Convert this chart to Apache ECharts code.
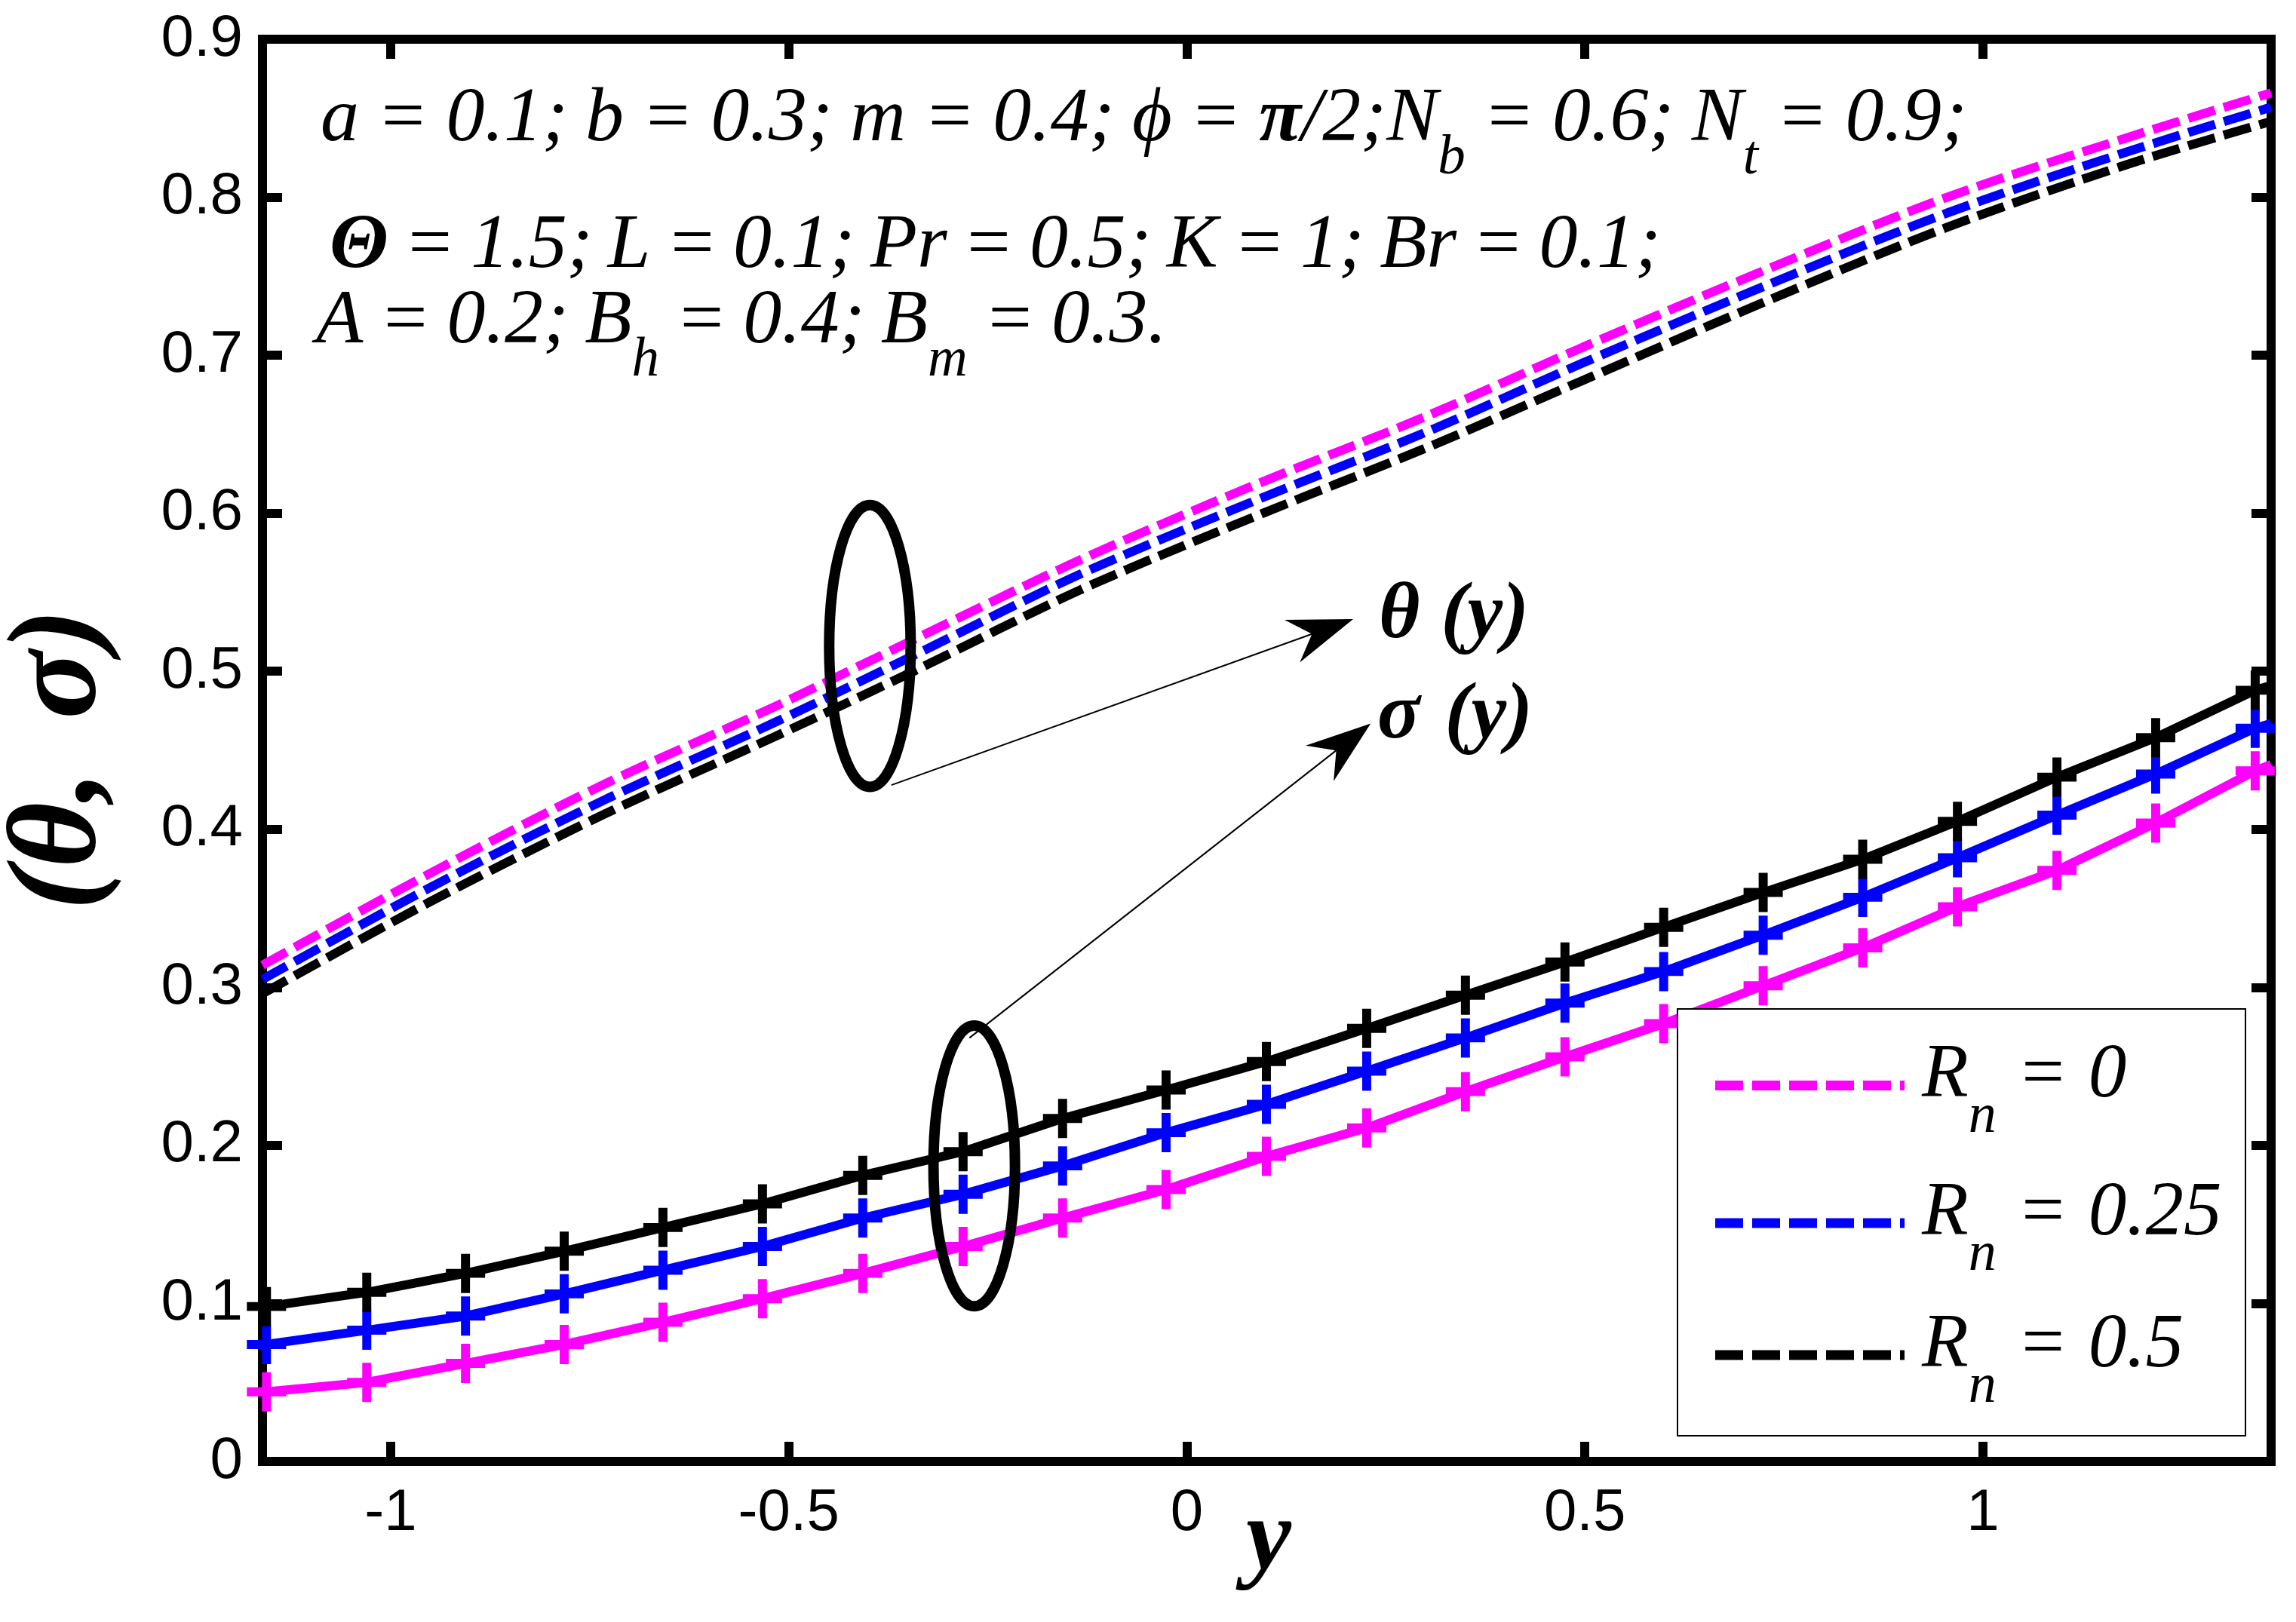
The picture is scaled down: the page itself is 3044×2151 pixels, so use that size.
<!DOCTYPE html>
<html>
<head>
<meta charset="utf-8">
<title>theta and sigma profiles</title>
<script src="https://cdn.jsdelivr.net/npm/echarts@6.0.0/dist/echarts.min.js"></script>
<style>
  html, body { margin: 0; padding: 0; background: #fff; }
  #chart { width: 3044px; height: 2151px; }
</style>
</head>
<body>
<div id="chart"></div>
<script>
'use strict';

// theta(y) - dashed curves
const thetaX = [-1.161, -0.951, -0.734, -0.516, -0.335, -0.136, 0.081, 0.299, 0.497, 0.727, 0.955, 1.183, 1.362];
const thetaRn0 = [0.314, 0.372, 0.428, 0.478, 0.522, 0.570, 0.617, 0.661, 0.705, 0.754, 0.800, 0.838, 0.866];
const thetaRn025 = [0.305, 0.363, 0.418, 0.468, 0.512, 0.561, 0.607, 0.651, 0.695, 0.744, 0.790, 0.829, 0.857];
const thetaRn05 = [0.296, 0.354, 0.409, 0.459, 0.502, 0.551, 0.597, 0.641, 0.684, 0.734, 0.781, 0.821, 0.848];

// sigma(y) - solid curves with + markers (last point is the line end at the axis, no marker)
const sigmaX = [-1.156, -1.030, -0.906, -0.782, -0.658, -0.533, -0.407, -0.281, -0.156, -0.026, 0.100,
    0.226, 0.350, 0.475, 0.599, 0.724, 0.849, 0.968, 1.093, 1.217, 1.342, 1.362];
const sigmaRn0 = [0.044, 0.050, 0.062, 0.074, 0.088, 0.103, 0.119, 0.136, 0.154, 0.172, 0.193,
    0.211, 0.234, 0.256, 0.277, 0.301, 0.325, 0.351, 0.374, 0.404, 0.437, 0.441];
const sigmaRn025 = [0.074, 0.083, 0.092, 0.106, 0.121, 0.136, 0.154, 0.169, 0.187, 0.208, 0.226,
    0.247, 0.268, 0.290, 0.310, 0.333, 0.357, 0.382, 0.409, 0.435, 0.464, 0.467];
const sigmaRn05 = [0.098, 0.107, 0.119, 0.133, 0.148, 0.163, 0.181, 0.196, 0.217, 0.235, 0.253,
    0.274, 0.295, 0.316, 0.338, 0.360, 0.381, 0.405, 0.433, 0.458, 0.488, 0.491];

const seriesColors = ['#FF00FF', '#0000FF', '#000000'];
const legendLabels = ['R_{n} = 0', 'R_{n} = 0.25', 'R_{n} = 0.5'];
const xTicks = [-1, -0.5, 0, 0.5, 1];
const xRange = [-1.161, 1.362];
const yRange = [0, 0.9];

// annotations, in data units: [cx, cy, rx, ry] and [[tail], [tip]]
const ellipseTheta = [-0.398, 0.516, 0.0512, 0.0892];
const ellipseSigma = [-0.267, 0.187, 0.0512, 0.0888];
const arrowTheta = [[-0.371, 0.428], [0.209, 0.533]];
const arrowSigma = [[-0.273, 0.268], [0.231, 0.467]];

const plusPath = 'path://M38.5,0H61.5V38.5H100V61.5H61.5V100H38.5V61.5H0V38.5H38.5Z';
const dash = [37, 12];

const chart = echarts.init(document.getElementById('chart'), null, { renderer: 'canvas' });

const thetaSeries = (ys, color) => ({
    type: 'line',
    data: thetaX.map((x, i) => [x, ys[i]]),
    symbol: 'none',
    smooth: 0.3,
    lineStyle: { color: color, width: 12, type: dash },
    z: 2
});

const sigmaSeries = (ys, color) => ({
    type: 'line',
    data: sigmaX.map((x, i) => i === sigmaX.length - 1 ? { value: [x, ys[i]], symbol: 'none' } : [x, ys[i]]),
    symbol: plusPath,
    symbolSize: 52,
    showAllSymbol: true,
    itemStyle: { color: color },
    lineStyle: { color: color, width: 12 },
    z: 3
});

const tickStyle = { color: '#000', width: 12 };
const labelFont = { fontFamily: 'Liberation Sans', fontSize: 78, color: '#000' };
const noLine = { show: false, onZero: false };

chart.setOption({
    animation: false,
    backgroundColor: '#fff',
    grid: {
        left: 348, top: 52, width: 2663, height: 1886,
        show: true, borderColor: '#000', borderWidth: 12
    },
    xAxis: [{
        type: 'value', min: xRange[0], max: xRange[1],
        axisLine: noLine,
        splitLine: { show: false },
        axisTick: { show: true, inside: true, length: 26, lineStyle: tickStyle, customValues: xTicks },
        axisLabel: Object.assign({ margin: 30, customValues: xTicks, formatter: v => String(v) }, labelFont)
    }, {
        type: 'value', position: 'top', min: xRange[0], max: xRange[1],
        axisLine: noLine,
        splitLine: { show: false },
        axisTick: { show: true, inside: true, length: 26, lineStyle: tickStyle, customValues: xTicks },
        axisLabel: { show: false }
    }],
    yAxis: [{
        type: 'value', position: 'left', min: yRange[0], max: yRange[1], interval: 0.1,
        axisLine: noLine,
        splitLine: { show: false },
        axisTick: { show: true, inside: true, length: 26, lineStyle: tickStyle },
        axisLabel: Object.assign({ margin: 26, formatter: v => String(Math.round(v * 10) / 10) }, labelFont)
    }, {
        type: 'value', position: 'right', min: yRange[0], max: yRange[1], interval: 0.1,
        axisLine: noLine,
        splitLine: { show: false },
        axisTick: { show: true, inside: true, length: 26, lineStyle: tickStyle },
        axisLabel: { show: false }
    }],
    series: [
        thetaSeries(thetaRn0, seriesColors[0]),
        thetaSeries(thetaRn025, seriesColors[1]),
        thetaSeries(thetaRn05, seriesColors[2]),
        sigmaSeries(sigmaRn0, seriesColors[0]),
        sigmaSeries(sigmaRn025, seriesColors[1]),
        sigmaSeries(sigmaRn05, seriesColors[2])
    ]
});

// ---- text helpers (subscripts need manual layout) ----
const measureCtx = document.createElement('canvas').getContext('2d');

function textWidth(str, font) {
    measureCtx.font = font;
    return measureCtx.measureText(str).width;
}

// how far the canvas 'middle' line sits above the alphabetic baseline
function midShift(font) {
    measureCtx.font = font;
    measureCtx.textBaseline = 'alphabetic';
    const a = measureCtx.measureText('H').actualBoundingBoxAscent;
    measureCtx.textBaseline = 'middle';
    const b = measureCtx.measureText('H').actualBoundingBoxAscent;
    measureCtx.textBaseline = 'alphabetic';
    return a - b;
}

// "N_{b}" -> subscript, "*{x}" -> bold; words are split on spaces
function parseLine(str) {
    return str.split(' ').map(w => w.split(/(_\{[^}]*\}|\*\{[^}]*\})/).filter(s => s).map(s => {
        if (s[0] === '_' && s[1] === '{') return { t: s.slice(2, -1), sub: true };
        if (s[0] === '*' && s[1] === '{') return { t: s.slice(2, -1), bold: true };
        return { t: s };
    }));
}

function textRow(str, opt) {
    const words = parseLine(str);
    let fixed = 0;
    words.forEach(w => w.forEach(p => {
        const bold = p.bold || opt.bold;
        p.font = 'italic ' + (bold ? 'bold ' : '') + (p.sub ? opt.subSize : opt.size) + 'px "Liberation Serif"';
        p.w = textWidth(p.t, p.font);
        fixed += p.w;
    }));
    const gaps = words.length - 1;
    let space = 0;
    if (opt.space != null) space = opt.space;
    else if (opt.width != null && gaps > 0) space = Math.max(0, (opt.width - fixed) / gaps);
    const total = fixed + space * gaps;
    let cx = opt.anchor === 'center' ? -total / 2 : 0;
    const children = [];
    words.forEach(w => {
        w.forEach(p => {
            const drop = p.sub ? opt.subDrop : 0;
            children.push({
                type: 'text', x: cx, y: drop - midShift(p.font), silent: true, z: opt.z || 50,
                style: {
                    text: p.t, font: p.font, fill: '#000',
                    align: 'left', verticalAlign: 'middle',
                    textAlign: 'left', textVerticalAlign: 'middle'
                }
            });
            cx += p.w;
        });
        cx += space;
    });
    return { type: 'group', x: opt.x, y: opt.y, rotation: opt.rotation || 0, z: opt.z || 50, children: children };
}

const toPx = pt => chart.convertToPixel({ xAxisIndex: 0, yAxisIndex: 0 }, pt);

function ellipseEl(e) {
    const c = toPx([e[0], e[1]]);
    const r = toPx([e[0] + e[2], e[1] + e[3]]);
    return {
        type: 'ellipse', z: 40, silent: true,
        shape: { cx: c[0], cy: c[1], rx: Math.abs(r[0] - c[0]), ry: Math.abs(r[1] - c[1]) },
        style: { fill: 'none', stroke: '#000', lineWidth: 14 }
    };
}

function arrowEls(a) {
    const s = toPx(a[0]);
    const t = toPx(a[1]);
    const len = Math.hypot(t[0] - s[0], t[1] - s[1]);
    const ux = (t[0] - s[0]) / len, uy = (t[1] - s[1]) / len;
    const nx = -uy, ny = ux;
    const headLen = 86, halfW = 30, notch = 58;
    return [{
        type: 'line', z: 40, silent: true,
        shape: { x1: s[0], y1: s[1], x2: t[0] - notch * ux, y2: t[1] - notch * uy },
        style: { stroke: '#000', lineWidth: 2 }
    }, {
        type: 'polygon', z: 40, silent: true,
        shape: {
            points: [
                [t[0], t[1]],
                [t[0] - headLen * ux + halfW * nx, t[1] - headLen * uy + halfW * ny],
                [t[0] - notch * ux, t[1] - notch * uy],
                [t[0] - headLen * ux - halfW * nx, t[1] - headLen * uy - halfW * ny]
            ]
        },
        style: { fill: '#000' }
    }];
}

// ---- legend box ----
const legendBox = { x: 2224, y: 1338, w: 753, h: 566 };
const legendRows = [1439.5, 1622, 1797];
const legendEls = [{
    type: 'rect', z: 60, silent: true,
    shape: { x: legendBox.x, y: legendBox.y, width: legendBox.w, height: legendBox.h },
    style: { fill: '#fff', stroke: '#000', lineWidth: 2 }
}];
legendRows.forEach((ly, i) => {
    legendEls.push({
        type: 'line', z: 61, silent: true,
        shape: { x1: 2274, y1: ly, x2: 2525, y2: ly },
        style: { stroke: seriesColors[i], lineWidth: 13, lineDash: dash }
    });
    legendEls.push(textRow(legendLabels[i], {
        x: 2548, y: ly + 14.5, size: 101, subSize: 74, subDrop: 47, space: 27, z: 62
    }));
});

const paramOpt = { size: 102, subSize: 73, subDrop: 44 };

chart.setOption({
    graphic: [
        textRow('a = 0.1; b = 0.3; m = 0.4; ϕ = *{π}/2;N_{b} = 0.6; N_{t} = 0.9;',
            Object.assign({ x: 425, y: 186, width: 2183 }, paramOpt)),
        textRow('*{Θ} = 1.5; L = 0.1; Pr = 0.5; K = 1; Br = 0.1;',
            Object.assign({ x: 437, y: 354, width: 1765 }, paramOpt)),
        textRow('A = 0.2; B_{h} = 0.4; B_{m} = 0.3.',
            Object.assign({ x: 419, y: 454, width: 1128 }, paramOpt)),
        textRow('θ (y)', { x: 1828, y: 845, width: 199, size: 105, bold: true }),
        textRow('σ (y)', { x: 1826, y: 978, width: 206, size: 105, bold: true }),
        textRow('(θ, σ)', { x: 125, y: 1007, width: 400, size: 168, bold: true, anchor: 'center', rotation: Math.PI / 2 }),
        textRow('y', { x: 1682, y: 2080, size: 135, bold: true, anchor: 'center' }),
        ellipseEl(ellipseTheta),
        ellipseEl(ellipseSigma)
    ].concat(arrowEls(arrowTheta), arrowEls(arrowSigma), legendEls)
});
</script>
</body>
</html>
